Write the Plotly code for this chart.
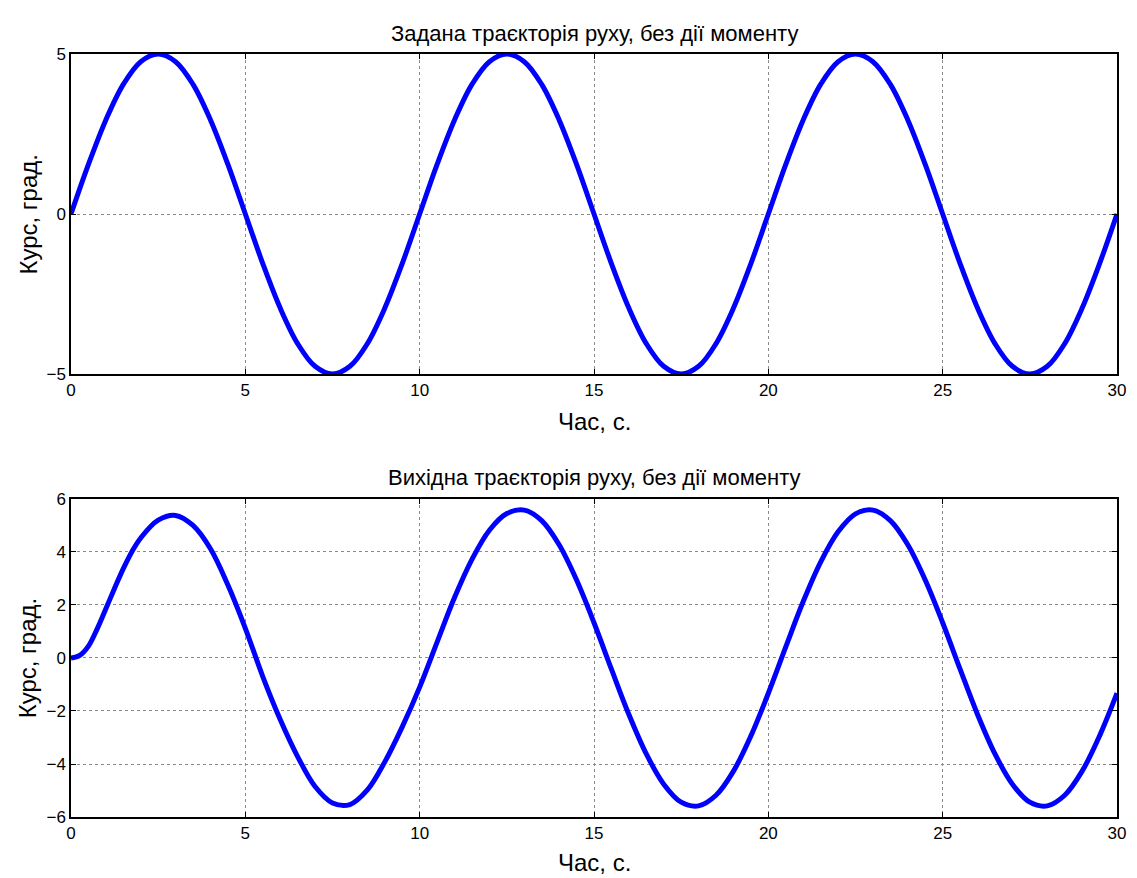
import plotly.graph_objects as go
from plotly.subplots import make_subplots

# time axis (s) for the desired heading
time_s = [0, 0.5, 1, 1.5, 2, 2.5, 3, 3.5, 4, 4.5, 5, 5.5, 6, 6.5, 7, 7.5, 8, 8.5, 9, 9.5,
          10, 10.5, 11, 11.5, 12, 12.5, 13, 13.5, 14, 14.5, 15, 15.5, 16, 16.5, 17, 17.5,
          18, 18.5, 19, 19.5, 20, 20.5, 21, 21.5, 22, 22.5, 23, 23.5, 24, 24.5, 25, 25.5,
          26, 26.5, 27, 27.5, 28, 28.5, 29, 29.5, 30]

# desired heading (top)
course_set = [0, 1.55, 2.94, 4.05, 4.76, 5.0, 4.76, 4.05, 2.94, 1.55,
              0, -1.55, -2.94, -4.05, -4.76, -5.0, -4.76, -4.05, -2.94, -1.55,
              0, 1.55, 2.94, 4.05, 4.76, 5.0, 4.76, 4.05, 2.94, 1.55,
              0, -1.55, -2.94, -4.05, -4.76, -5.0, -4.76, -4.05, -2.94, -1.55,
              0, 1.55, 2.94, 4.05, 4.76, 5.0, 4.76, 4.05, 2.94, 1.55,
              0, -1.55, -2.94, -4.05, -4.76, -5.0, -4.76, -4.05, -2.94, -1.55,
              0]

# time axis (s) for the output heading (finer at the start)
time_out = [0, 0.25, 0.5, 0.75, 1, 1.25, 1.5, 1.75, 2, 2.5, 3, 3.5, 4, 4.5, 5, 5.5, 6, 6.5,
            7, 7.5, 8, 8.5, 9, 9.5, 10, 10.5, 11, 11.5, 12, 12.5, 13, 13.5, 14, 14.5, 15,
            15.5, 16, 16.5, 17, 17.5, 18, 18.5, 19, 19.5, 20, 20.5, 21, 21.5, 22, 22.5,
            23, 23.5, 24, 24.5, 25, 25.5, 26, 26.5, 27, 27.5, 28, 28.5, 29, 29.5, 30]

# output heading (bottom)
course_out = [0, 0.1, 0.45, 1.1, 1.86, 2.63, 3.37, 4.02, 4.53, 5.2, 5.38, 5.0, 4.12,
              2.75, 1.12, -0.7, -2.32, -3.72, -4.85, -5.47, -5.53, -4.98, -3.92, -2.6,
              -1.1, 0.6, 2.28, 3.72, 4.82, 5.45,
              5.58, 5.18, 4.27, 2.94, 1.33, -0.42, -2.13, -3.62, -4.76, -5.44,
              -5.58, -5.18, -4.27, -2.94, -1.33, 0.42, 2.13, 3.62, 4.76, 5.44,
              5.58, 5.18, 4.27, 2.94, 1.33, -0.42, -2.13, -3.62, -4.76, -5.44,
              -5.58, -5.18, -4.27, -2.94, -1.33]

title_top = "Задана траєкторія руху, без дії моменту"
title_bot = "Вихідна траєкторія руху, без дії моменту"
xlabel = "Час, с."
ylabel = "Курс, град."

FONT = "Liberation Sans, Arial, sans-serif"

fig = make_subplots(rows=2, cols=1)
fig.add_trace(go.Scatter(x=time_s, y=course_set, mode="lines",
                         line=dict(color="#0000FF", width=5, shape="spline", smoothing=1),
                         showlegend=False), row=1, col=1)
fig.add_trace(go.Scatter(x=time_out, y=course_out, mode="lines",
                         line=dict(color="#0000FF", width=5, shape="spline", smoothing=1),
                         showlegend=False), row=2, col=1)

axis_common = dict(showline=True, linecolor="black", linewidth=1.5, mirror="ticks",
                   ticks="inside", ticklen=5, tickwidth=1, tickcolor="black",
                   showgrid=True, gridcolor="#8a8a8a", gridwidth=1, griddash="dot",
                   zeroline=False, tickfont=dict(family=FONT, size=17, color="black"))

fig.update_layout(
    width=1137, height=878,
    margin=dict(l=71, r=11, t=54, b=61),
    paper_bgcolor="white", plot_bgcolor="white",
    font=dict(family=FONT, color="black"),
    xaxis=dict(domain=[0, 1], range=[0, 30], tickvals=[0, 5, 10, 15, 20, 25, 30], **axis_common),
    yaxis=dict(domain=[0.5806, 1], range=[-5, 5], tickvals=[-5, 0, 5], **axis_common),
    xaxis2=dict(domain=[0, 1], range=[0, 30], tickvals=[0, 5, 10, 15, 20, 25, 30], **axis_common),
    yaxis2=dict(domain=[0, 0.4168], range=[-6, 6], tickvals=[-6, -4, -2, 0, 2, 4, 6], **axis_common),
)

ann = []
ann.append(dict(text=title_top, x=0.5, y=1.0275, font=dict(size=22)))
ann.append(dict(text=title_bot, x=0.5, y=0.4456, font=dict(size=22)))
ann.append(dict(text=xlabel, x=0.5, y=0.5177, font=dict(size=24)))
ann.append(dict(text=xlabel, x=0.5, y=-0.059, font=dict(size=24)))
ann.append(dict(text=ylabel, x=-0.0408, y=0.790, font=dict(size=24), textangle=-90))
ann.append(dict(text=ylabel, x=-0.0408, y=0.2084, font=dict(size=24), textangle=-90))
for a in ann:
    a.update(xref="paper", yref="paper", xanchor="center", yanchor="middle", showarrow=False)
    a["font"].update(family=FONT, color="black")
fig.update_layout(annotations=ann)

fig.write_html("out.html")
